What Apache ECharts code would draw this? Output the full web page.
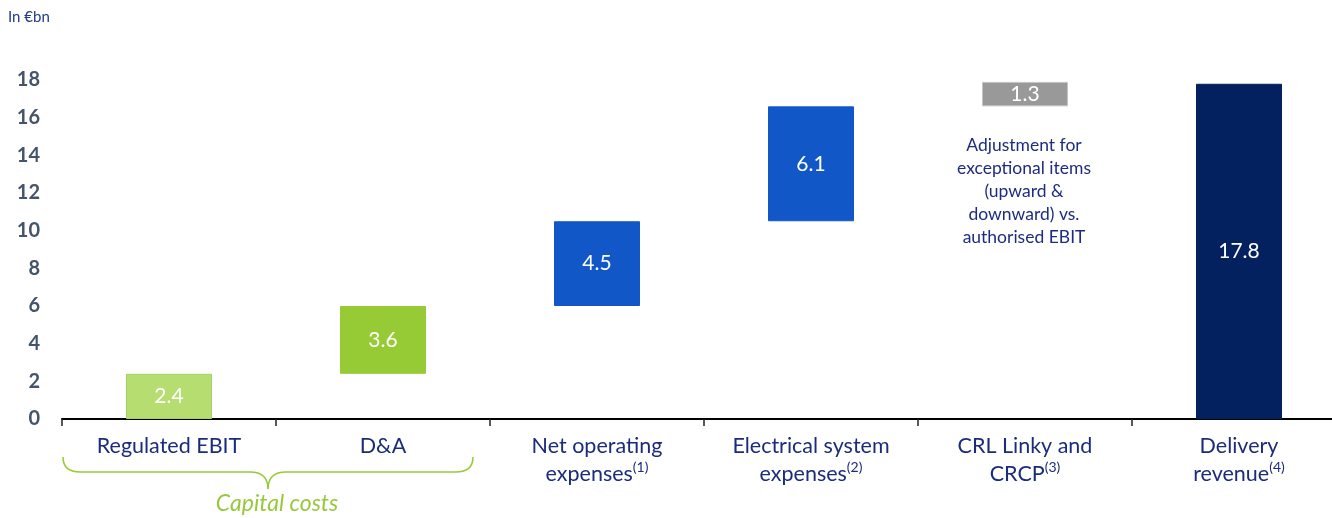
<!DOCTYPE html>
<html>
<head>
<meta charset="utf-8">
<script src="https://cdn.jsdelivr.net/npm/echarts@6/dist/echarts.min.js"></script>
<style>
html,body{margin:0;padding:0;background:#fff;overflow:hidden;}
#chart{width:1346px;height:518px;}
</style>
</head>
<body>
<div id="chart"></div>
<script>
// ---- data ----
var categories = ['Regulated EBIT', 'D&A', 'Net operating|expenses|(1)', 'Electrical system|expenses|(2)', 'CRL Linky and|CRCP|(3)', 'Delivery|revenue|(4)'];
var values = [2.4, 3.6, 4.5, 6.1, 1.3, 17.8];
var isTotal = [false, false, false, false, false, true];
var barColors = ['#b5dd70', '#97cb35', '#1257c8', '#1257c8', '#999999', '#03215e'];
var borderColors = ['#a2d468', '#97cb35', '#1257c8', '#1257c8', '#c4c4c4', '#03215e'];
var yTicks = [0, 18, 2];
var unitLabel = 'In €bn';
var noteText = 'Adjustment for\nexceptional items\n(upward &\ndownward) vs.\nauthorised EBIT';
var groupLabel = 'Capital costs';

// waterfall bases
var bases = [];
var run = 0;
for (var i = 0; i < values.length; i++) {
  if (isTotal[i]) { bases.push(0); }
  else { bases.push(+run.toFixed(2)); run += values[i]; }
}

var chart = echarts.init(document.getElementById('chart'), null, {renderer: 'canvas'});
var FONT = 'Lato';
var braceStyle = {stroke: '#97cb35', lineWidth: 1.5, fill: null};
var option = {
  animation: false,
  backgroundColor: '#fff',
  grid: {left: 62, top: 80, right: 0, height: 339, containLabel: false},
  xAxis: {
    type: 'category',
    data: categories,
    axisLine: {show: true, lineStyle: {color: '#000', width: 2}},
    axisTick: {show: true, alignWithLabel: false, length: 7, lineStyle: {color: '#222', width: 1.5}},
    axisLabel: {
      interval: 0,
      margin: 13,
      formatter: function (v) {
        var p = v.split('|');
        if (p.length === 1) return '{a|' + p[0] + '}';
        return '{a|' + p[0] + '}\n{a|' + p[1] + '}{s|' + p[2] + '}';
      },
      rich: {
        a: {fontFamily: FONT, fontSize: 21.5, lineHeight: 28, color: '#1b2c7a'},
        s: {fontFamily: FONT, fontSize: 14, lineHeight: 28, color: '#1b2c7a', verticalAlign: 'top', padding: [0, 0, 10, 0]}
      }
    }
  },
  yAxis: {
    type: 'value',
    min: yTicks[0], max: yTicks[1], interval: yTicks[2],
    splitLine: {show: false},
    axisLine: {show: false},
    axisTick: {show: false},
    axisLabel: {fontFamily: FONT, fontWeight: 'bold', fontSize: 20, color: '#44546a', margin: 22}
  },
  series: [
    {
      type: 'bar', stack: 'w', barWidth: 86, silent: true,
      itemStyle: {color: 'transparent'},
      data: bases
    },
    {
      type: 'bar', stack: 'w', barWidth: 86,
      data: values.map(function (v, i) {
        return {value: v, itemStyle: {color: barColors[i], borderColor: borderColors[i], borderWidth: 1}};
      }),
      label: {
        show: true, position: 'inside', color: '#fff',
        fontFamily: FONT, fontSize: 21,
        formatter: function (p) { return p.value.toFixed(1); }
      }
    }
  ],
  graphic: [
    {type: 'text', x: 8, y: 10, style: {text: unitLabel, fontFamily: FONT, fontSize: 15, fill: '#1f3a8f'}},
    {type: 'text', x: 1024, y: 134, style: {text: noteText, fontFamily: FONT, fontSize: 17.5, lineHeight: 23, fill: '#1d2c80', align: 'center'}},
    {type: 'bezierCurve', shape: {x1: 63, y1: 457, cpx1: 63, cpy1: 472, x2: 80, y2: 472}, style: braceStyle},
    {type: 'line', shape: {x1: 80, y1: 472, x2: 250, y2: 472}, style: braceStyle},
    {type: 'bezierCurve', shape: {x1: 250, y1: 472, cpx1: 268, cpy1: 472, x2: 268, y2: 489}, style: braceStyle},
    {type: 'bezierCurve', shape: {x1: 268, y1: 489, cpx1: 268, cpy1: 472, x2: 286, y2: 472}, style: braceStyle},
    {type: 'line', shape: {x1: 286, y1: 472, x2: 456, y2: 472}, style: braceStyle},
    {type: 'bezierCurve', shape: {x1: 456, y1: 472, cpx1: 473, cpy1: 472, x2: 473, y2: 457}, style: braceStyle},
    {type: 'text', x: 277, y: 504, style: {text: groupLabel, fontFamily: FONT, fontSize: 23, fontStyle: 'italic', fill: '#97c93c', align: 'center', verticalAlign: 'middle'}}
  ]
};
chart.setOption(option);
</script>
</body>
</html>
